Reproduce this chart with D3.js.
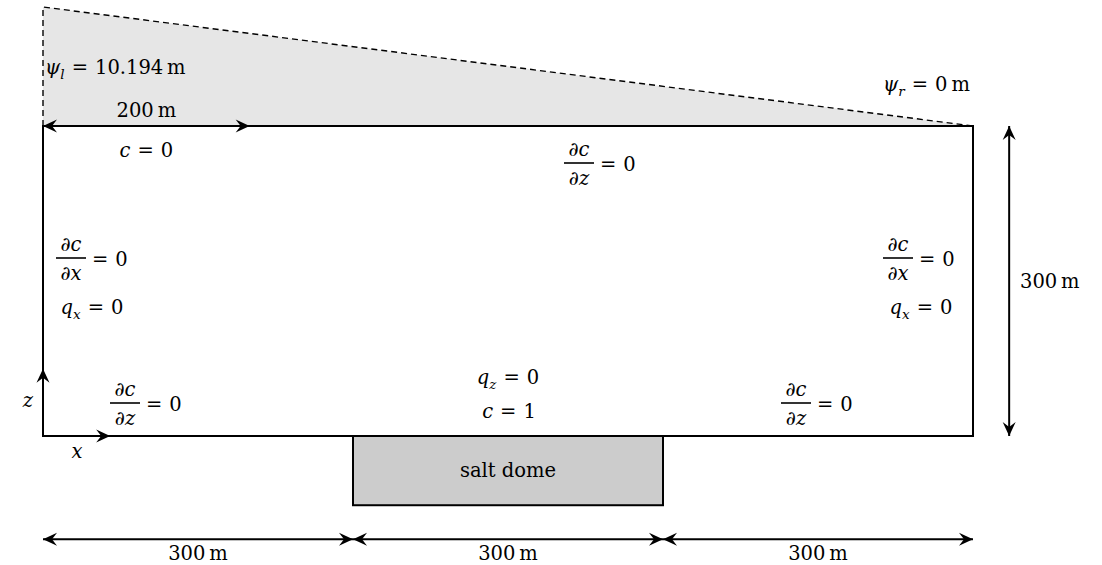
<!DOCTYPE html>
<meta charset="utf-8">
<script src="https://d3js.org/d3.v7.min.js"></script>
<style>
  body { margin: 0; background: #fff; }
  text { font-family: "DejaVu Serif", "Liberation Serif", serif; font-size: 19.5px; fill: #000; }
</style>
<div id="diagram"></div>
<script>
// geometry of the model (metres)
var segments = [300, 300, 300];      // left, salt dome, right
var domainHeight = 300;
var headLeft = 10.194, headRight = 0;
var inflowWidth = 200;               // c = 0 stretch on the top
var saltDepth = 67;
var dimOffset = 100;                 // distance of dimension lines below domain
var axisLength = 65;

var width = 1102, height = 565;
var total = d3.sum(segments);

var svg = d3.select("#diagram").append("svg")
    .attr("width", width)
    .attr("height", height);

var x = d3.scaleLinear().domain([0, total]).range([43, 973]);
var z = d3.scaleLinear().domain([0, domainHeight]).range([436, 126]);
var head = d3.scaleLinear().domain([0, headLeft]).range([z(domainHeight), 7]);

// arrow head
var defs = svg.append("defs");
defs.append("marker")
    .attr("id", "stealth")
    .attr("viewBox", "-15 -7 16 14")
    .attr("refX", 0).attr("refY", 0)
    .attr("markerWidth", 16).attr("markerHeight", 14)
    .attr("markerUnits", "userSpaceOnUse")
    .attr("orient", "auto-start-reverse")
  .append("path")
    .attr("d", "M0,0 L-14,-6.5 L-9,0 L-14,6.5 Z")
    .attr("fill", "#000");

// water table (head) wedge
svg.append("path")
    .attr("d", "M" + x(0) + "," + z(domainHeight) +
               "L" + x(0) + "," + head(headLeft) +
               "L" + x(total) + "," + head(headRight) + "Z")
    .attr("fill", "#e6e6e6");
svg.append("path")
    .attr("d", "M" + x(0) + "," + z(domainHeight) +
               "L" + x(0) + "," + head(headLeft) +
               "L" + x(total) + "," + head(headRight))
    .attr("fill", "none")
    .attr("stroke", "#000")
    .attr("stroke-width", 1.4)
    .attr("stroke-dasharray", "6,4");

// salt dome
svg.append("rect")
    .attr("x", x(segments[0]))
    .attr("y", z(0))
    .attr("width", x(segments[0] + segments[1]) - x(segments[0]))
    .attr("height", z(-saltDepth) - z(0))
    .attr("fill", "#cccccc")
    .attr("stroke", "#000")
    .attr("stroke-width", 2);

// domain
svg.append("rect")
    .attr("x", x(0))
    .attr("y", z(domainHeight))
    .attr("width", x(total) - x(0))
    .attr("height", z(0) - z(domainHeight))
    .attr("fill", "none")
    .attr("stroke", "#000")
    .attr("stroke-width", 2);

function arrow(x1, y1, x2, y2, both) {
  var l = svg.append("line")
      .attr("x1", x1).attr("y1", y1).attr("x2", x2).attr("y2", y2)
      .attr("stroke", "#000").attr("stroke-width", 2)
      .attr("marker-end", "url(#stealth)");
  if (both) l.attr("marker-start", "url(#stealth)");
}

// dimension arrows
var start = 0;
segments.forEach(function(s) {
  arrow(x(start), z(-dimOffset), x(start + s), z(-dimOffset), true);
  start += s;
});
arrow(x(total + 35), z(0), x(total + 35), z(domainHeight), true);
arrow(x(0), z(domainHeight), x(inflowWidth), z(domainHeight), true);

// coordinate axes
arrow(x(0), z(0), x(0), z(axisLength), false);
arrow(x(0), z(0), x(axisLength), z(0), false);

// math text helper: parts = [[text, style]]
// style i = italic, r = roman, s = italic subscript, o = relation with wide spacing
function math(px, py, parts, anchor) {
  var t = svg.append("text")
      .attr("x", px).attr("y", py)
      .attr("text-anchor", anchor || "start");
  var shift = 0, pad = 0;
  parts.forEach(function(p) {
    var ts = t.append("tspan").text(p[0]);
    if (p[1] === "i") ts.attr("font-style", "italic");
    if (pad) { ts.attr("dx", pad); pad = 0; }
    if (p[1] === "o") { ts.attr("dx", 7); pad = 7; }
    if (p[1] === "s") {
      ts.attr("font-style", "italic").attr("font-size", 13.5).attr("dy", 5 - shift);
      shift = 5;
    } else if (shift) {
      ts.attr("dy", -shift);
      shift = 0;
    }
  });
  return t;
}

function frac(left, barY, v) {
  var w = 30;
  math(left + w / 2, barY - 7, [["\u2202", "i"], ["c", "i"]], "middle");
  math(left + w / 2, barY + 22, [["\u2202", "i"], [v, "i"]], "middle");
  svg.append("line")
      .attr("x1", left).attr("x2", left + w)
      .attr("y1", barY).attr("y2", barY)
      .attr("stroke", "#000").attr("stroke-width", 1.6);
  math(left + w - 1, barY + 8, [["=", "o"], ["0", "r"]]);
}

math(45, 74, [["\u03C8", "i"], ["l", "s"], ["=", "o"], ["10.194\u2009m", "r"]]);
math(883, 91, [["\u03C8", "i"], ["r", "s"], ["=", "o"], ["0\u2009m", "r"]]);
math((x(0) + x(inflowWidth)) / 2, 117, [["200\u2009m", "r"]], "middle");
math((x(0) + x(inflowWidth)) / 2, 157, [["c", "i"], ["=", "o"], ["0", "r"]], "middle");

frac(564, 163, "z");
frac(56, 258, "x");
frac(883, 258, "x");
frac(110, 403, "z");
frac(781, 403, "z");

math(92, 314, [["q", "i"], ["x", "s"], ["=", "o"], ["0", "r"]], "middle");
math(921, 314, [["q", "i"], ["x", "s"], ["=", "o"], ["0", "r"]], "middle");
math(508, 384, [["q", "i"], ["z", "s"], ["=", "o"], ["0", "r"]], "middle");
math(509, 418, [["c", "i"], ["=", "o"], ["1", "r"]], "middle");

math(x(segments[0] + segments[1] / 2), 477, [["salt dome", "r"]], "middle");

start = 0;
segments.forEach(function(s) {
  math(x(start + s / 2), 560, [[s + "\u2009m", "r"]], "middle");
  start += s;
});
math(1020, 288, [[domainHeight + "\u2009m", "r"]]);

math(28, 407, [["z", "i"]], "middle");
math(77, 458, [["x", "i"]], "middle");
</script>
